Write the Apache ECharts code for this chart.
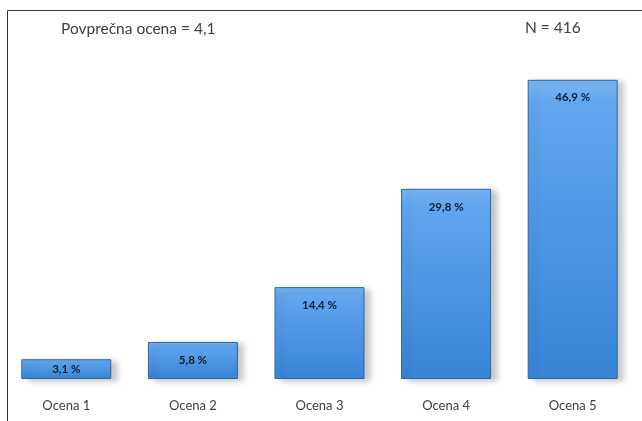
<!DOCTYPE html>
<html><head><meta charset="utf-8">
<script src="https://cdn.jsdelivr.net/npm/echarts@6/dist/echarts.min.js"></script>
<style>html,body{margin:0;padding:0;background:#fff}#c{width:642px;height:421px}</style>
</head><body><div id="c"></div>
<script>
const categories = ['Ocena 1', 'Ocena 2', 'Ocena 3', 'Ocena 4', 'Ocena 5'];
const values = [3.1, 5.8, 14.4, 29.8, 46.9];
const noteLeft = 'Povprečna ocena = 4,1';
const noteRight = 'N = 416';

const chart = echarts.init(document.getElementById('c'));
const font = 'Lato, "Liberation Sans", sans-serif';
const fmt = v => v.toFixed(1).replace('.', ',') + ' %';
chart.setOption({
  animation: false,
  grid: { left: 3, right: 6, top: 60, bottom: 42 },
  xAxis: {
    type: 'category', data: categories,
    axisLine: { show: false }, axisTick: { show: false },
    axisLabel: { margin: 20, color: '#404040', fontSize: 13, fontFamily: font }
  },
  yAxis: { type: 'value', min: 0, max: 50, show: false, splitLine: { show: false } },
  series: [{
    type: 'bar', barWidth: 90,
    data: values.map((v, i) => i === 0 ? { value: v, label: { position: 'inside' } } : v),
    itemStyle: {
      color: new echarts.graphic.LinearGradient(0, 0, 0, 1, [
        { offset: 0, color: '#7ab6f5' },
        { offset: 0.08, color: '#62a6ee' },
        { offset: 0.5, color: '#4e96e3' },
        { offset: 1, color: '#3784d8' }
      ]),
      borderColor: '#2d64a2', borderWidth: 1,
      shadowColor: 'rgba(0,0,0,0.22)', shadowBlur: 6, shadowOffsetX: 6, shadowOffsetY: 2
    },
    label: {
      show: true, position: 'insideTop', distance: 12,
      formatter: p => fmt(p.value),
      color: '#101c33', fontWeight: 'bold', fontSize: 11.5, fontFamily: font
    }
  }],
  graphic: [
    { type: 'polyline', shape: { points: [[7.5, 421], [7.5, 10.5], [642, 10.5]] },
      style: { stroke: '#333', lineWidth: 1, fill: null } },
    { type: 'text', left: 61, top: 21, style: { text: noteLeft, fill: '#404040', font: '15.5px ' + font } },
    { type: 'text', left: 525, top: 20, style: { text: noteRight, fill: '#404040', font: '15.5px ' + font } }
  ]
});
</script></body></html>
